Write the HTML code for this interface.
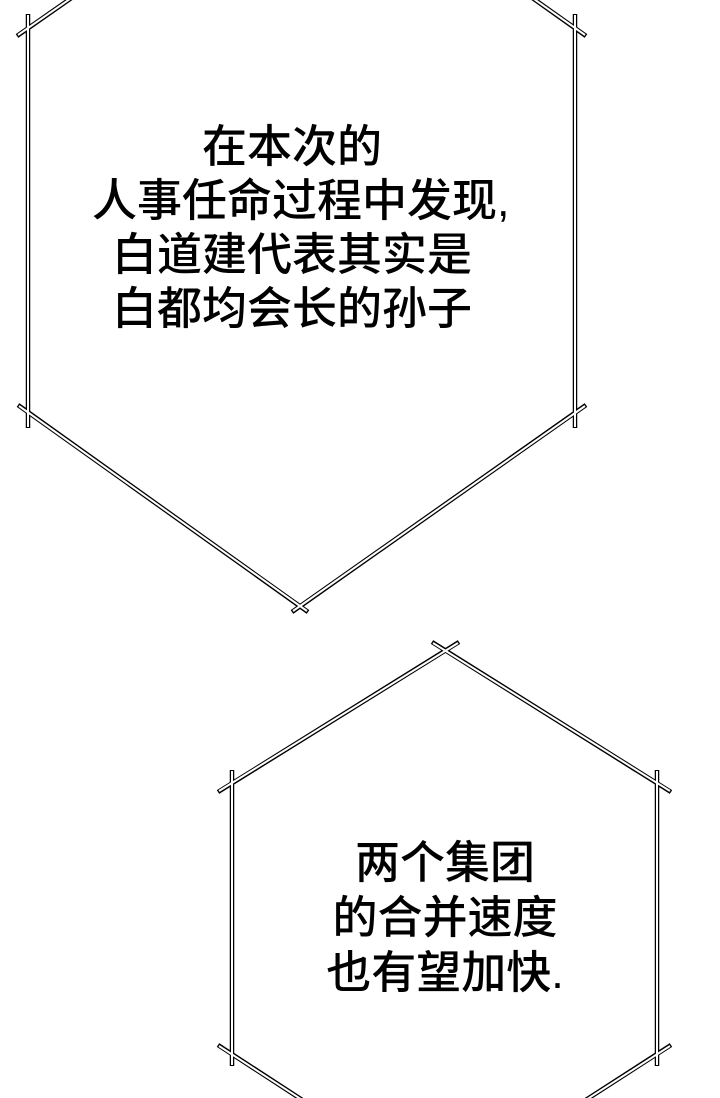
<!DOCTYPE html>
<html><head><meta charset="utf-8"><style>
html,body{margin:0;padding:0;background:#fff;}
body{width:720px;height:1098px;position:relative;overflow:hidden;}
.t{position:absolute;text-align:center;font-family:"Liberation Sans","Noto Sans CJK SC",sans-serif;font-size:45px;font-weight:500;color:#000;white-space:nowrap;}
svg{position:absolute;left:0;top:0;}
</style></head><body>
<svg width="720" height="1098">
<g stroke="#000" stroke-width="4.5" stroke-linecap="butt" fill="none">
<path d="M28,14 L28,428 M575,14 L575,428 M17,36 L80,-8 M586,36 L524,-8 M18,405 L308,612 M586,405 L292,612"/>
<path d="M232,770 L232,1066 M657,770 L657,1066 M218,792 L459,642 M432,642 L671,792 M218,1045 L310,1105 M671,1045 L578,1105"/>
</g>
<g stroke="#fff" stroke-width="2" fill="none">
<path d="M28,15 L28,427 M575,15 L575,427 M18,35 L80,-8 M585,35 L524,-8 M19,406 L307,611 M585,406 L293,611"/>
<path d="M232,771 L232,1065 M657,771 L657,1065 M219,791 L458,643 M433,643 L670,791 M219,1046 L310,1105 M670,1046 L578,1105"/>
</g>
</svg>
<div class="t" style="left:92px;width:400px;top:120px;line-height:54px;">在本次的<br>人事任命过程中发现,<br>白道建代表其实是<br>白都均会长的孙子</div>
<div class="t" style="left:245px;width:400px;top:835px;line-height:55px;">两个集团<br>的合并速度<br>也有望加快.</div>
</body></html>
